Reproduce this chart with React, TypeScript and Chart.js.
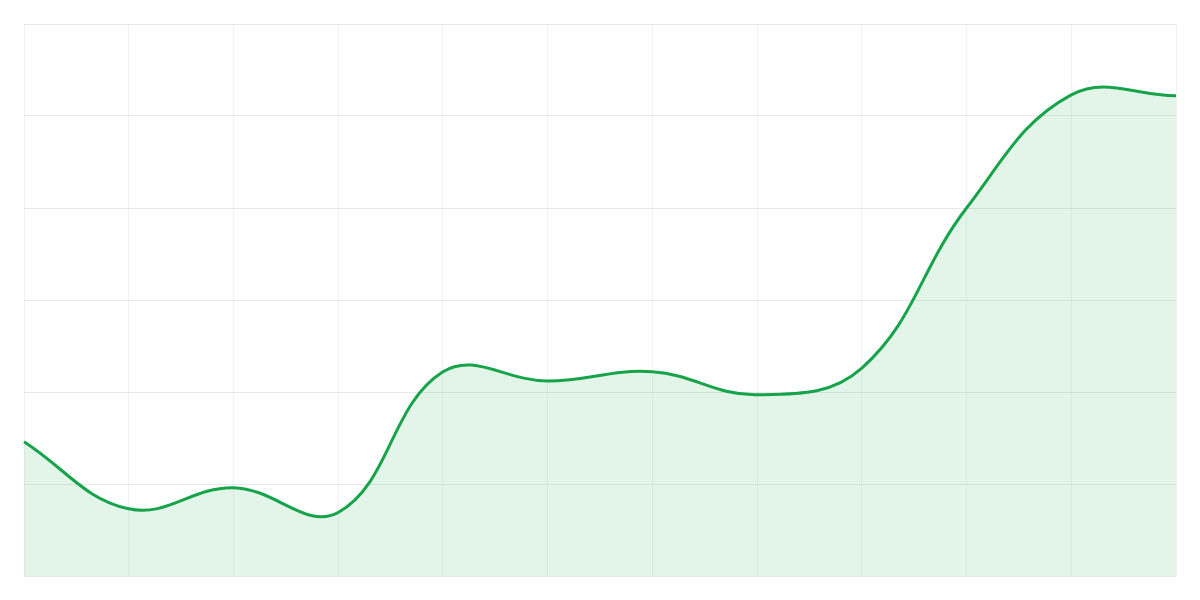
import { useEffect, useRef } from "react";
import Chart from "chart.js/auto";

const labels = ["1", "2", "3", "4", "5", "6", "7", "8", "9", "10", "11", "12"];
const values = [14.6, 7.3, 9.6, 6.9, 22.2, 21.2, 22.2, 19.7, 22.6, 40.0, 52.3, 52.2];
const yMin = 0;
const yMax = 60;

export default function App() {
    const chartRef = useRef<HTMLCanvasElement | null>(null);

    useEffect(() => {
        if (!chartRef.current) return;
        const ctx = chartRef.current.getContext("2d");
        if (!ctx) return;

        const myChart = new Chart(ctx, {
            type: "line",
            data: {
                labels,
                datasets: [{
                    data: values,
                    borderColor: "#16a34a",
                    backgroundColor: "rgba(22, 163, 74, 0.12)",
                    borderWidth: 3,
                    fill: true,
                    tension: 0.4,
                    pointRadius: 0,
                }],
            },
            options: {
                responsive: true,
                maintainAspectRatio: false,
                animation: false,
                layout: { padding: 16 },
                plugins: {
                    legend: { display: false },
                    tooltip: { enabled: false },
                },
                scales: {
                    x: {
                        ticks: { display: false },
                        grid: { color: "rgba(0, 0, 0, 0.05)", drawTicks: false },
                        border: { display: false },
                    },
                    y: {
                        min: yMin,
                        max: yMax,
                        ticks: { display: false, stepSize: 10 },
                        grid: { color: "rgba(0, 0, 0, 0.09)", drawTicks: false },
                        border: { display: false },
                    },
                },
            },
        });
        return () => {
            myChart.destroy();
        };
    }, []);

    return (
        <div style={{ width: "100%", height: "584px", position: "relative" }}>
            <canvas ref={chartRef}></canvas>
        </div>
    );
}
